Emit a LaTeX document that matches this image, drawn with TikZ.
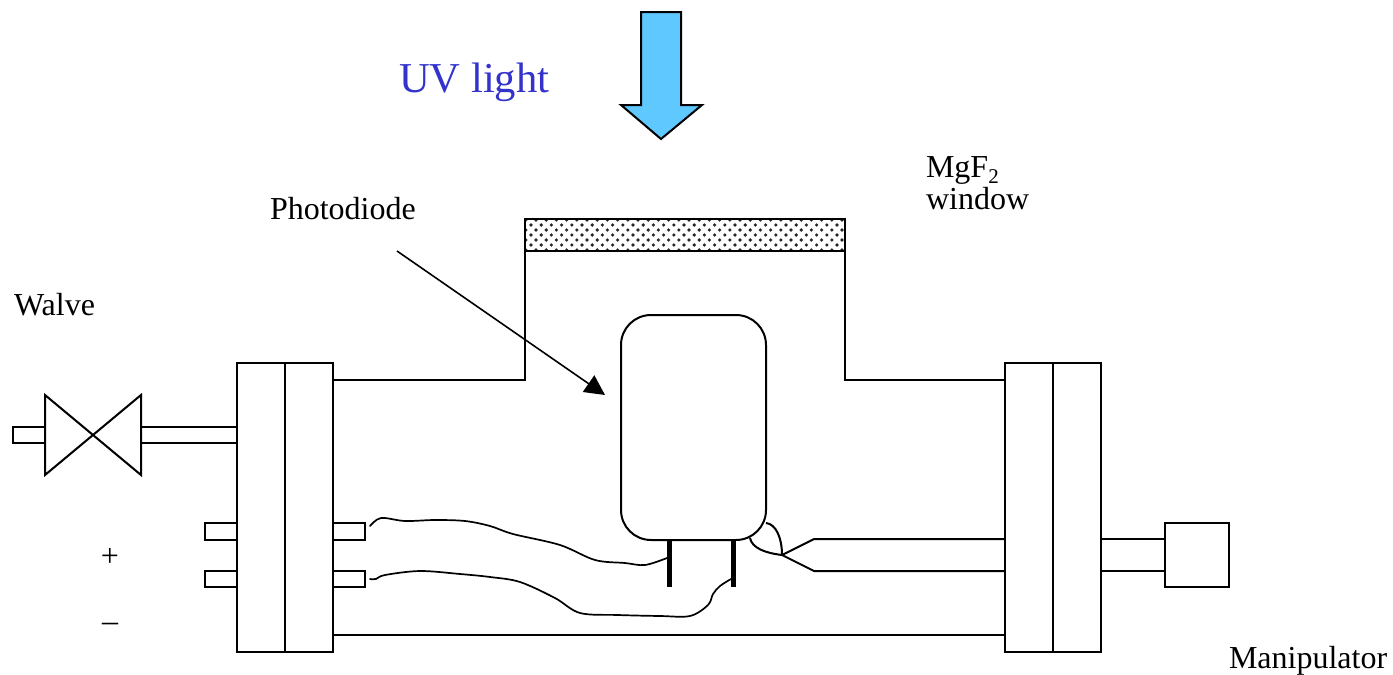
\documentclass[tikz,border=0pt]{standalone}
\usepackage{fontspec}
\setmainfont{Liberation Serif}
\usetikzlibrary{arrows.meta,calc}
\definecolor{uvblue}{RGB}{51,51,204}
\definecolor{uvfill}{RGB}{95,200,255}
\tikzset{
	part/.style={draw=black,line width=1pt,fill=white},
	wire/.style={line width=0.85pt,smooth,tension=0.55,line cap=round},
	lab/.style={font=\fontsize{16}{19}\selectfont,inner sep=0pt},
}
\begin{document}
\begin{tikzpicture}[>=Stealth,x=0.5pt,y=-0.5pt,line width=1pt,line join=miter]
		\useasboundingbox (0,0) rectangle (1393,675);
		% body of the chamber
		\draw (333,380)--(525,380)--(525,219)--(845,219)--(845,380)--(1005,380);
		\draw (333,635)--(1005,635);
		% window
		\begin{scope}
			\clip (525,219) rectangle (845,251);
			\foreach \k in {0,...,6}{
				\pgfmathsetmacro{\rowy}{220+5*\k}
				\pgfmathsetmacro{\shift}{mod(\k,2)==1 ? 531 : 536}
				\foreach \i in {-1,...,31}{
					\fill[black!85] ({\shift+10.2*\i},\rowy) circle (0.9pt);
				}
			}
		\end{scope}
		\draw (525,219) rectangle (845,251);
		% flanges
		\foreach \xa/\xb in {237/285,285/333,1005/1053,1053/1101}{
			\draw[part] (\xa,363) rectangle (\xb,652);
		}
		% feedthroughs
		\foreach \ya/\yb in {523/540,571/587}{
			\draw[part] (205,\ya) rectangle (237,\yb);
			\draw[part] (333,\ya) rectangle (365,\yb);
		}
		% valve
		\draw[part] (13,427) rectangle (45,443);
		\draw[part] (141,427) rectangle (237,443);
		\draw[part] (45,395)--(141,475)--(141,395)--(45,475)--cycle;
		% manipulator
		\draw (1101,539)--(1165,539);
		\draw (1101,571)--(1165,571);
		\draw[part] (1165,523) rectangle (1229,587);
		% photodiode
		\node[part,rounded corners=15pt,minimum width=72.5pt,minimum height=112.5pt,inner sep=0pt] (diode) at (693.5,427.5) {};
		\draw[line width=2.5pt] (669,540)--(669,587);
		\draw[line width=2.5pt] (733,540)--(733,587);
		% wires
		\draw[wire] plot coordinates {(370,526) (381,518) (405,521) (435,520) (465,521) (490,526) (513,534) (560,545) (595,560) (625,563) (645,565) (667,558)};
		\draw[wire] plot coordinates {(370,579) (376,579) (385,575) (420,571) (460,574) (490,577) (520,582) (555,598) (580,613) (618,615) (660,616) (690,616) (708,605) (713,594) (720,586) (731,579)};
		\coordinate (joint) at (782,555);
		\draw (766,523) .. controls (776,524) and (782,538) .. (joint);
		\draw (750,538) .. controls (752,548) and (765,553) .. (joint);
		\draw (joint)--(814,539)--(1005,539);
		\draw (joint)--(814,571)--(1005,571);
		% UV arrow
		\draw[fill=uvfill] (641,12)--(681,12)--(681,105)--(702,105)--(661,139)--(621,105)--(641,105)--cycle;
		% labels
		\node[inner sep=0pt,anchor=base west,text=uvblue,font=\fontsize{21.3}{25}\selectfont] (uv) at (398,92) {UV light};
		\node[lab,anchor=base west] (photo) at (269,219) {Photodiode};
		\node[lab,anchor=base west] (mgf) at (925,177) {MgF\raisebox{-3pt}{\fontsize{10.5}{12}\selectfont 2}};
		\node[lab,anchor=base west] (win) at (925,209) {window};
		\node[lab,anchor=base west] (walve) at (13,315) {Walve};
		\node[lab,anchor=base] (plus) at (110,566) {+};
		\node[lab,anchor=base] (minus) at (110,631) {–};
		\node[lab,anchor=base west] (manip) at (1228,668) {Manipulator};
		% pointer
		\coordinate (ptr) at (397,251);
		\coordinate (ptrend) at (605,395);
		\draw[-{Triangle[length=10pt,width=10pt]},line width=0.8pt] (ptr)--(ptrend);
	\end{tikzpicture}
\end{document}
